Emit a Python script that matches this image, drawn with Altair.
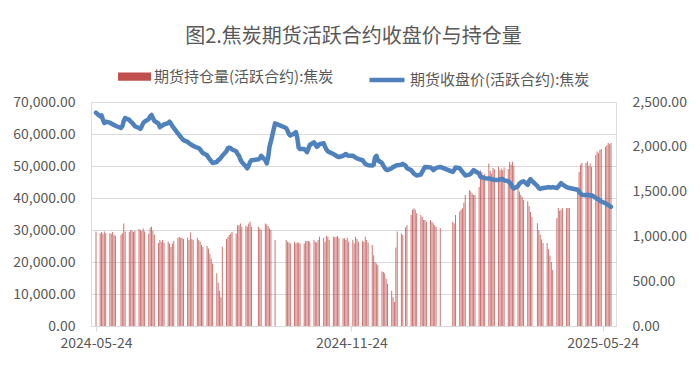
import altair as alt
import pandas as pd

TITLE = "图2.焦炭期货活跃合约收盘价与持仓量"
OI_NAME = "期货持仓量(活跃合约):焦炭"
PX_NAME = "期货收盘价(活跃合约):焦炭"
FONT = "Noto Sans CJK SC"
GREY = "#595959"

# exchange holidays (weekdays without trading)
HOLIDAYS = ["2024-06-10", "2024-09-16", "2024-09-17", "2024-10-01", "2024-10-02",
            "2024-10-03", "2024-10-04", "2024-10-07", "2025-01-01", "2025-01-28",
            "2025-01-29", "2025-01-30", "2025-01-31", "2025-02-03", "2025-02-04",
            "2025-04-04", "2025-05-01", "2025-05-02", "2025-05-05"]
START, END = "2024-05-24", "2025-05-30"
TICK_DATES = [(2024, 5, 24), (2024, 11, 24), (2025, 5, 24)]

# open interest, one inner list per trading week
OI_WEEKS = [
    [29500],
    [29000, 29400, 28800, 29500, 29000],
    [29000, 28800, 29400, 28500, 28200],
    [28500, 29000, 32000, 29500],
    [29400, 30000, 29800, 29400, 29800],
    [30300, 30000, 29700, 30500, 29500],
    [28800, 30700, 31000, 29800, 28500],
    [25900, 26900, 26300, 26900, 26000],
    [26300, 25800, 24700, 25800, 26600],
    [27600, 27800, 27500, 27600, 27200],
    [27600, 26900, 29200, 27200, 26900],
    [27600, 26900, 26300, 25300, 24700],
    [25000, 24200, 22600, 21100, 19500],
    [16500, 13500, 11000, 9000, 24800],
    [27200, 27800, 28400, 28900, 29400],
    [28900, 31500, 31500, 32000, 31000],
    [31300, 31000, 32000, 32600, 31000],
    [31000, 30500, 30000],
    [32000, 31700, 31200, 30500, 30000],
    [26900],
    [26900, 26300, 26100, 25800],
    [26300, 25800, 26100, 26000, 25800],
    [25800, 26600, 26600, 26600, 26300],
    [26900, 26300, 26100, 26900, 27900],
    [27600, 26300, 28200, 27900, 26900],
    [27900, 27700, 27900, 28100, 27400],
    [27400, 27400, 26900, 27600, 26300],
    [26900, 25800, 27900, 27200, 26300],
    [26600, 26300, 27900, 26900, 26100],
    [25300, 22100, 20000, 19500, 19000],
    [17100, 16900, 16400, 14800, 13200],
    [11000, 9000, 7500, 24500, 29500],
    [28900, 28400, 30800, 31500],
    [34700, 36300, 36800, 36300, 35200],
    [34700, 34100, 33100, 33100, 32600],
    [33100, 32600, 32100, 31500, 31000],
    [30600],
    [32600, 32100, 34700],
    [35800, 36300, 36800, 38500, 40900],
    [42500, 42000, 41400, 40900, 41000],
    [43400, 48600, 48100, 47000, 47500],
    [50800, 48500, 47600, 49400, 49000],
    [49800, 48700, 49200, 48700, 49500],
    [49100, 51300, 50500, 51300, 50000],
    [44000, 42000, 41000, 40300, 39400],
    [39000, 37500, 35600, 34000],
    [32100, 30000, 28500, 27000, 25900],
    [25900, 24000, 22000, 20000, 17500],
    [33700, 36900, 36000, 36300, 36900],
    [36900, 36900, 36900],
    [42500, 48100, 50400, 51000],
    [50900, 51500, 50000, 50800, 49700],
    [53400, 54500, 54000, 55000, 55300],
    [56000, 56500, 57200, 56800, 57200],
]

# closing price, same week structure
PX_WEEKS = [
    [2380],
    [2340, 2350, 2300, 2265, 2280],
    [2270, 2260, 2250, 2243, 2235],
    [2210, 2230, 2290, 2320],
    [2300, 2280, 2270, 2250, 2230],
    [2210, 2200, 2230, 2265, 2280],
    [2310, 2340, 2355, 2320, 2290],
    [2260, 2220, 2230, 2240, 2250],
    [2265, 2280, 2260, 2230, 2210],
    [2150, 2130, 2110, 2090, 2075],
    [2055, 2040, 2030, 2020, 2010],
    [1990, 1985, 1970, 1950, 1930],
    [1905, 1880, 1860, 1840, 1820],
    [1830, 1850, 1860, 1880, 1900],
    [1950, 1985, 1990, 1985, 1970],
    [1950, 1920, 1900, 1860, 1830],
    [1780, 1760, 1790, 1830, 1850],
    [1860, 1870, 1900],
    [1850, 1815, 1880, 2000, 2060],
    [2262],
    [2210, 2180, 2140, 2125],
    [2150, 2165, 2100, 1990, 1975],
    [1975, 1960, 1940, 1980, 2020],
    [2050, 2030, 2000, 2010, 2030],
    [2040, 2000, 1970, 1950, 1940],
    [1920, 1910, 1900, 1890, 1885],
    [1900, 1910, 1920, 1905, 1900],
    [1900, 1890, 1880, 1870, 1865],
    [1850, 1830, 1810, 1800, 1795],
    [1790, 1800, 1880, 1900, 1850],
    [1820, 1790, 1765, 1745, 1740],
    [1760, 1775, 1780, 1790, 1795],
    [1800, 1810, 1790, 1760],
    [1740, 1720, 1700, 1690, 1680],
    [1690, 1720, 1750, 1775, 1775],
    [1770, 1760, 1740, 1750, 1765],
    [1775],
    [1720, 1740, 1770],
    [1760, 1740, 1720, 1700, 1680],
    [1690, 1700, 1720, 1740, 1730],
    [1700, 1665, 1660, 1655, 1650],
    [1645, 1645, 1640, 1635, 1630],
    [1630, 1635, 1640, 1640, 1625],
    [1615, 1600, 1580, 1550, 1535],
    [1560, 1590, 1600, 1610, 1615],
    [1575, 1620, 1640, 1620],
    [1560, 1540, 1530, 1535, 1540],
    [1545, 1550, 1545, 1545, 1550],
    [1540, 1555, 1575, 1595, 1580],
    [1550, 1545, 1540],
    [1520, 1500, 1480, 1465],
    [1460, 1465, 1460, 1455, 1460],
    [1430, 1420, 1415, 1400, 1390],
    [1370, 1360, 1350, 1340, 1330],
]

days = [d.strftime("%Y-%m-%d") for d in pd.bdate_range(START, END)]
dates = [d for d in days if d not in HOLIDAYS]
oi = [v for w in OI_WEEKS for v in w]
px = [v for w in PX_WEEKS for v in w]
n = min(len(dates), len(oi), len(px))

df = pd.DataFrame({
    "date": dates[:n],
    "oi": oi[:n],
    "px": px[:n],
    "s1": [OI_NAME] * n,
    "s2": [PX_NAME] * n,
})

def dt(y, m, d):
    return alt.DateTime(year=y, month=m, date=d, utc=True)

x_enc = alt.X(
    "date:T",
    scale=alt.Scale(type="utc", domain=[dt(2024, 5, 24), dt(2025, 5, 30)]),
    axis=alt.Axis(
        title=None,
        values=[dt(*t) for t in TICK_DATES],
        labelExpr="utcFormat(datum.value, '%Y-%m-%d')",
        labelFontSize=14,
        labelColor=GREY,
        labelFont=FONT,
        labelPadding=5,
        labelOverlap=False,
        domainColor="#d9d9d9",
        tickColor="#d9d9d9",
        tickSize=5,
        grid=False,
    ),
)

bars = alt.Chart(df).mark_bar(size=1, opacity=0.8).encode(
    x=x_enc,
    y=alt.Y(
        "oi:Q",
        scale=alt.Scale(domain=[0, 70000], nice=False),
        axis=alt.Axis(
            title=None,
            values=list(range(0, 70001, 10000)),
            format=",.2f",
            orient="left",
            labelFontSize=14,
            labelColor=GREY,
            labelFont=FONT,
            labelPadding=16,
            domain=False,
            ticks=False,
            grid=True,
            gridColor="#d9d9d9",
            gridWidth=1,
        ),
    ),
    color=alt.Color(
        "s1:N",
        scale=alt.Scale(domain=[OI_NAME], range=["#c0504d"]),
        legend=alt.Legend(
            title=None,
            orient="none",
            legendX=27,
            legendY=-42,
            symbolType="M-1,-0.25H1V0.25H-1Z",
            symbolSize=1089,
            symbolStrokeWidth=0,
            symbolOpacity=1,
            labelFontSize=15,
            labelColor=GREY,
            labelFont=FONT,
            labelOffset=3,
            labelLimit=400,
            padding=0,
        ),
    ),
)

line = alt.Chart(df).mark_line(strokeWidth=4.5, strokeJoin="round", strokeCap="round").encode(
    x=alt.X("date:T"),
    y=alt.Y(
        "px:Q",
        scale=alt.Scale(domain=[0, 2500], nice=False),
        axis=alt.Axis(
            title=None,
            values=list(range(0, 2501, 500)),
            format=",.2f",
            orient="right",
            labelFontSize=14,
            labelColor=GREY,
            labelFont=FONT,
            labelPadding=16,
            domain=False,
            ticks=False,
            grid=False,
        ),
    ),
    stroke=alt.Stroke(
        "s2:N",
        scale=alt.Scale(domain=[PX_NAME], range=["#4f81bd"]),
        legend=alt.Legend(
            title=None,
            orient="none",
            legendX=276,
            legendY=-42,
            symbolType="stroke",
            symbolSize=1225,
            symbolStrokeWidth=4.5,
            labelFontSize=15,
            labelColor=GREY,
            labelFont=FONT,
            labelOffset=3,
            labelLimit=400,
            padding=0,
        ),
    ),
)

chart = (
    alt.layer(bars, line)
    .resolve_scale(y="independent")
    .properties(
        width=525,
        height=224,
        title=alt.TitleParams(
            TITLE,
            fontSize=20,
            font=FONT,
            fontWeight="normal",
            color=GREY,
            anchor="middle",
            offset=13,
        ),
        autosize=alt.AutoSizeParams(type="none"),
        padding={"left": 91, "top": 102, "right": 84, "bottom": 40},
    )
    .configure_view(stroke=None)
    .configure(background="white")
)

chart.save("out.html", embed_options={"renderer": "svg", "actions": False})
